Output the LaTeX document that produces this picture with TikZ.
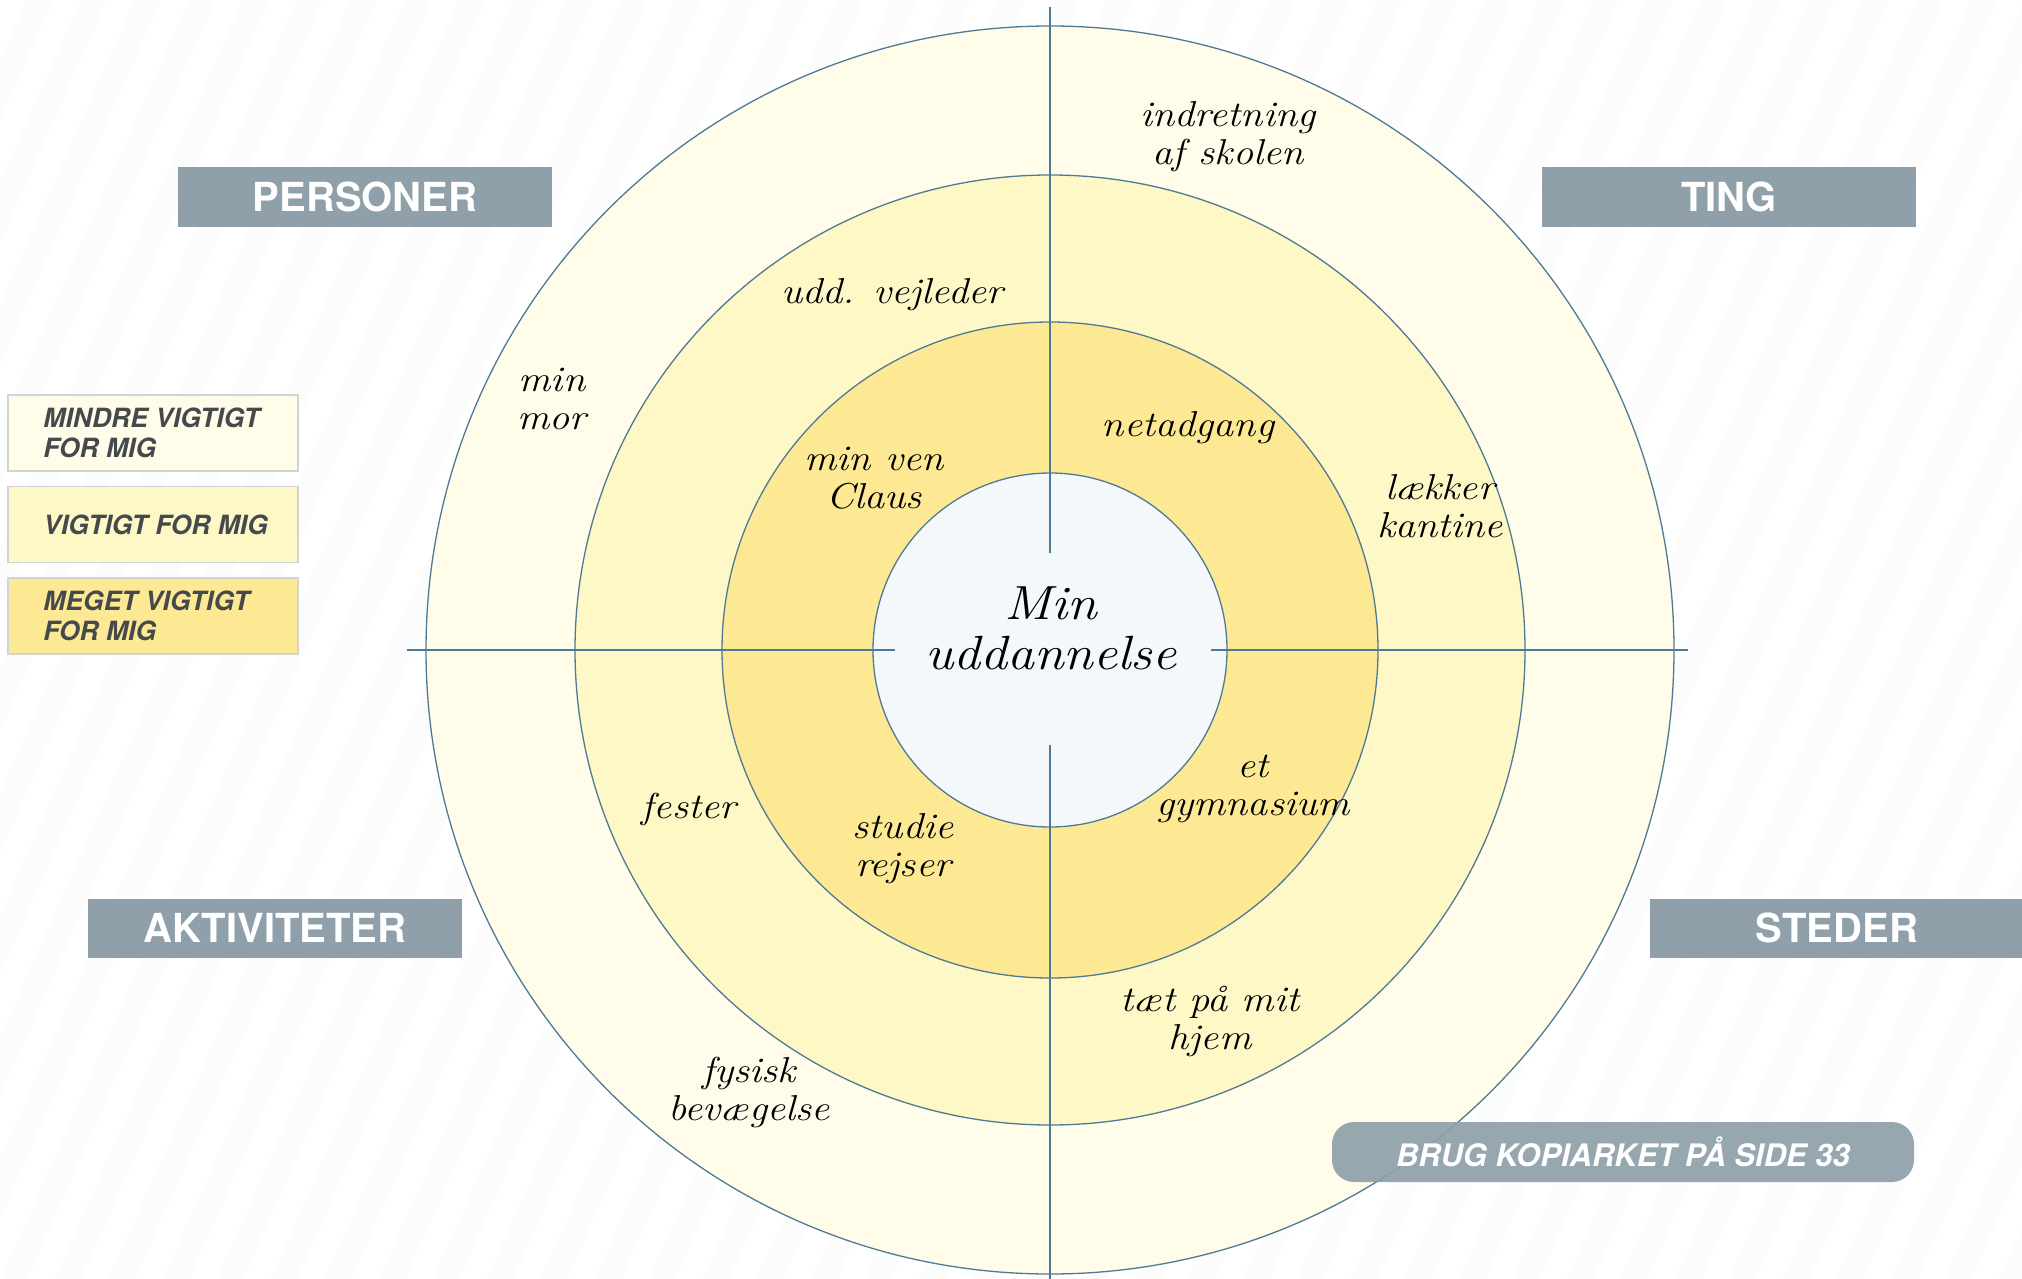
\documentclass[tikz,border=0pt]{standalone}
\usepackage{fontspec}
\usetikzlibrary{positioning}
\newfontfamily\heros{TeX Gyre Heros}
\newfontfamily\handfam[FakeStretch=1.12]{Latin Modern Roman}

\definecolor{bgstripe}{HTML}{FCFCFC}
\definecolor{ringline}{HTML}{4F7A96}
\definecolor{ringone}{HTML}{FFFDE9}
\definecolor{ringtwo}{HTML}{FEF8C7}
\definecolor{ringthree}{HTML}{FDE994}
\definecolor{centrefill}{HTML}{F4F8FA}
\definecolor{catgrey}{HTML}{8FA0AA}
\definecolor{keytext}{HTML}{45494C}
\definecolor{keyline}{HTML}{D3D3D3}

\tikzset{
  category/.style={fill=catgrey, text=white, minimum width=374pt, minimum height=59pt, inner sep=0pt,
    font=\heros\bfseries\fontsize{40}{40}\selectfont},
  keybox/.style={draw=keyline, line width=1.5pt, minimum width=290pt, minimum height=76pt, inner sep=0pt},
  keylabel/.style={anchor=west, align=left, text=keytext, inner sep=0pt,
    font=\heros\bfseries\itshape\fontsize{26.5}{30}\selectfont},
  hand/.style={align=center, inner sep=0pt, font=\handfam\itshape\fontsize{36}{38}\selectfont},
  ring/.style={draw=ringline, line width=1.3pt},
  axis/.style={draw=ringline, line width=1.3pt},
}

\begin{document}
\begin{tikzpicture}[x=1pt, y=-1pt]

    % Background
    \path[use as bounding box] (0,0) rectangle (2022,1279);
    \clip (0,0) rectangle (2022,1279);
    \fill[white] (0,0) rectangle (2022,1279);
    \foreach \s in {-27,27,...,2620}
      \fill[bgstripe] (\s,0) -- ++(26,0) -- ++(-566,1279) -- ++(-26,0) -- cycle;

    % Rings
    \coordinate (O) at (1050,650);
    \filldraw[ring, fill=ringone]    (O) circle[radius=624pt];
    \filldraw[ring, fill=ringtwo]    (O) circle[radius=475pt];
    \filldraw[ring, fill=ringthree]  (O) circle[radius=328pt];
    \filldraw[ring, fill=centrefill] (O) circle[radius=177pt];

    % Axes
    \coordinate (top)       at (1050,7);
    \coordinate (topend)    at (1050,553);
    \coordinate (bottom)    at (1050,1279);
    \coordinate (bottomend) at (1050,745);
    \coordinate (left)      at (407,650);
    \coordinate (leftend)   at (895,650);
    \coordinate (right)     at (1688,650);
    \coordinate (rightend)  at (1211,650);
    \draw[axis] (top) -- (topend);
    \draw[axis] (bottom) -- (bottomend);
    \draw[axis] (left) -- (leftend);
    \draw[axis] (right) -- (rightend);

    % Categories
    \node[category] (pers) at (365,197)  {PERSONER};
    \node[category] (ting) at (1729,197) {TING};
    \node[category] (akt)  at (275,928)  {AKTIVITETER};
    \node[category] (sted) at (1837,928) {STEDER};

    % Key
    \node[keybox, fill=ringone]                       (k1) at (153,433) {};
    \node[keybox, fill=ringtwo, below=14pt of k1]     (k2) {};
    \node[keybox, fill=ringthree, below=14pt of k2]   (k3) {};
    \node[keylabel] (k1t) at ([xshift=36pt]k1.west) {MINDRE VIGTIGT\\FOR MIG};
    \node[keylabel] (k2t) at ([xshift=36pt]k2.west) {VIGTIGT FOR MIG};
    \node[keylabel] (k3t) at ([xshift=36pt]k3.west) {MEGET VIGTIGT\\FOR MIG};

    % Centre
    \node[hand, font=\handfam\itshape\fontsize{48}{50}\selectfont] (me) at (1051,628) {Min\\uddannelse};

    % Handwritten entries
    \node[hand] (indr)   at (1228,137)  {indretning\\af skolen};
    \node[hand] (udd)    at (892,295)   {udd. vejleder};
    \node[hand] (mor)    at (552,399)   {min\\mor};
    \node[hand] (claus)  at (874,478)   {min ven\\Claus};
    \node[hand] (net)    at (1188,428)  {netadgang};
    \node[hand] (kant)   at (1440,506)  {lækker\\kantine};
    \node[hand] (fest)   at (689,809)   {fester};
    \node[hand] (rejs)   at (903,849)   {studie\\rejser};
    \node[hand] (gym)    at (1253,789)  {et\\gymnasium};
    \node[hand] (hjem)   at (1210,1022) {tæt på mit\\hjem};
    \node[hand] (fys)    at (749,1092)  {fysisk\\bevægelse};

    % Note
    \node[fill=catgrey, fill opacity=0.92, text opacity=1, rounded corners=22pt,
          minimum width=582pt, minimum height=60pt, inner sep=0pt, text=white,
          font=\heros\bfseries\itshape\fontsize{31}{31}\selectfont] (brug) at (1623,1152) {BRUG KOPIARKET PÅ SIDE 33};

\end{tikzpicture}
\end{document}
